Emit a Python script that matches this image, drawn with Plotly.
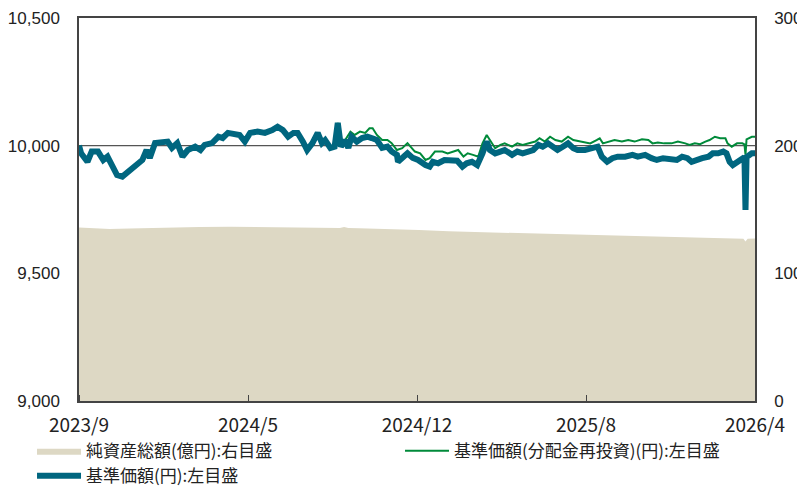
import plotly.graph_objects as go

# ---- data (trading-day index from 2023/9 to 2026/4) ----
tick_days = [0, 160, 320, 480, 640]
tick_labels = ["2023/9", "2024/5", "2024/12", "2025/8", "2026/4"]

nav_days = [0, 2, 8, 12, 18, 23, 27, 31, 36, 41, 46, 53, 60, 64, 67, 72, 79, 84, 88, 93,
            98, 103, 110, 115, 119, 126, 132, 136, 141, 148, 152, 157, 162, 169, 176, 183,
            188, 193, 198, 203, 207, 212, 216, 221, 223, 226, 230, 233, 238, 242, 245, 248,
            252, 255, 258, 263, 268, 273, 277, 282, 287, 292, 296, 301, 302, 307, 311, 316,
            321, 328, 332, 335, 340, 346, 351, 358, 363, 367, 372, 377, 382, 386, 389, 394,
            399, 403, 410, 415, 420, 425, 430, 435, 439, 444, 449, 453, 458, 463, 468, 472,
            479, 486, 491, 495, 500, 505, 510, 517, 524, 529, 536, 542, 547, 553, 560, 566,
            571, 576, 580, 585, 590, 596, 600, 605, 610, 613, 616, 619, 623, 628, 630, 631,
            632, 637, 640]
nav = [10000, 9970, 9937, 9977, 9977, 9944, 9957, 9924, 9885, 9879, 9898, 9924, 9944, 9983,
       9952, 10010, 10016, 10016, 9991, 10010, 9957, 9983, 9996, 9983, 10003, 10010, 10035,
       10030, 10050, 10042, 10042, 10016, 10050, 10055, 10050, 10061, 10074, 10061, 10035,
       10050, 10050, 10016, 9983, 10010, 10030, 10050, 10010, 10022, 9991, 9996, 10089, 9996,
       10022, 9991, 10035, 10016, 10030, 10035, 10030, 10022, 9991, 9996, 9977, 9964, 9937,
       9952, 9970, 9952, 9944, 9924, 9918, 9937, 9931, 9944, 9944, 9941, 9918, 9931, 9937,
       9924, 9970, 10016, 9983, 9970, 9977, 9983, 9964, 9977, 9970, 9977, 9983, 10003, 9996,
       10009, 9996, 9983, 9996, 10009, 9990, 9983, 9983, 9990, 9996, 9957, 9937, 9951, 9957,
       9957, 9964, 9957, 9964, 9951, 9944, 9951, 9944, 9944, 9957, 9951, 9937, 9947, 9951,
       9957, 9970, 9970, 9977, 9970, 9937, 9924, 9937, 9951, 9955, 9748, 9955, 9970, 9970]

reinv_days = [0, 2, 8, 12, 18, 23, 27, 31, 36, 41, 46, 53, 60, 64, 67, 72, 79, 84, 88, 93,
              98, 103, 110, 115, 119, 126, 132, 136, 141, 148, 152, 157, 162, 169, 176, 183,
              188, 193, 198, 203, 207, 212, 216, 221, 223, 226, 230, 233, 238, 242, 245, 248,
              252, 257, 261, 266, 271, 275, 278, 282, 287, 292, 296, 301, 306, 311, 318, 323,
              328, 332, 337, 344, 349, 354, 359, 364, 368, 373, 378, 382, 386, 389, 394, 399,
              403, 410, 415, 420, 425, 432, 436, 441, 446, 451, 457, 463, 468, 474, 484, 490,
              493, 496, 501, 507, 514, 520, 526, 533, 539, 543, 548, 554, 561, 567, 574, 578,
              583, 588, 593, 597, 602, 607, 612, 614, 618, 623, 628, 630, 631, 632, 637, 640]
reinv = [10000, 9970, 9937, 9977, 9977, 9944, 9957, 9924, 9885, 9879, 9898, 9924, 9944, 9983,
         9952, 10010, 10016, 10016, 9991, 10010, 9957, 9983, 9996, 9983, 10003, 10010, 10035,
         10030, 10050, 10042, 10042, 10016, 10050, 10055, 10050, 10061, 10074, 10061, 10035,
         10050, 10050, 10016, 9983, 10010, 10030, 10050, 10010, 10022, 9991, 9996, 10089, 9996,
         10022, 10055, 10042, 10055, 10050, 10068, 10068, 10042, 10022, 10022, 10010, 9983,
         9990, 10010, 9977, 9970, 9944, 9951, 9977, 9977, 9970, 9977, 9983, 9957, 9970, 9964,
         9957, 10009, 10042, 10022, 9990, 10003, 10009, 9996, 10009, 10003, 10009, 10016,
         10029, 10016, 10035, 10022, 10016, 10035, 10022, 10016, 10009, 10022, 10029, 10009,
         10016, 10022, 10016, 10022, 10016, 10025, 10022, 10009, 10012, 10009, 10009, 10016,
         10009, 10003, 10009, 10006, 10016, 10022, 10035, 10029, 10029, 10009, 9996, 10009,
         10009, 10005, 9965, 10025, 10035, 10035]

aum_days = [0, 10, 29, 48, 77, 114, 143, 171, 209, 247, 251, 255, 265, 294, 322, 350, 379,
            407, 436, 464, 492, 521, 549, 578, 606, 629, 631, 633, 640]
aum = [135.9, 135.5, 134.8, 135.2, 135.8, 136.3, 136.5, 136.3, 136.0, 135.6, 136.2, 135.6,
       135.4, 134.8, 134.0, 132.9, 132.3, 132.0, 131.5, 131.0, 130.3, 129.6, 128.9, 128.3,
       127.6, 127.0, 125.0, 127.0, 127.3]

C_AREA = "#DDD8C4"
C_GREEN = "#008A3A"
C_BLUE = "#00667F"
CJK = "Noto Sans CJK JP"

fig = go.Figure()
fig.add_trace(go.Scatter(x=aum_days, y=aum, name="純資産総額(億円):右目盛",
                         mode="lines", fill="tozeroy", fillcolor=C_AREA,
                         line=dict(color=C_AREA, width=0), yaxis="y"))
fig.add_trace(go.Scatter(x=reinv_days, y=reinv, name="基準価額(分配金再投資)(円):左目盛",
                         mode="lines", line=dict(color=C_GREEN, width=2), yaxis="y2"))
fig.add_trace(go.Scatter(x=nav_days, y=nav, name="基準価額(円):左目盛",
                         mode="lines", line=dict(color=C_BLUE, width=6), yaxis="y2"))

fig.add_shape(type="line", xref="paper", x0=0, x1=1, yref="y2", y0=10000, y1=10000,
              line=dict(color="#555555", width=1.2), layer="below")

axis_line = "#444444"
# the page body adds an 8px offset, so the figure is 8px smaller than the window
fig.update_layout(
    width=797, height=478,
    margin=dict(l=71, r=50, t=10, b=85, autoexpand=False),
    paper_bgcolor="white", plot_bgcolor="white",
    showlegend=True,
    legend=dict(orientation="h", x=-0.0695, xanchor="left", y=-0.084, yanchor="top",
                entrywidth=309, entrywidthmode="pixels", itemwidth=44,
                font=dict(family=CJK, size=17, color="#222222"),
                tracegroupgap=0, bgcolor="rgba(0,0,0,0)"),
    xaxis=dict(range=[0, 640], tickmode="array", tickvals=tick_days, ticktext=tick_labels,
               ticks="outside", ticklen=6, tickcolor="rgba(0,0,0,0)", showgrid=False,
               minor=dict(ticks="inside", ticklen=6, tickcolor=axis_line,
                          tickmode="array", tickvals=tick_days, showgrid=False),
               showline=True, linecolor=axis_line, linewidth=1.5, mirror=True,
               zeroline=False, automargin=False,
               tickfont=dict(family=CJK, size=19, color="#222222")),
    yaxis=dict(side="right", range=[0, 300], tickvals=[0, 100, 200, 300],
               showgrid=False, zeroline=False, showline=True, linecolor=axis_line,
               linewidth=1.5, ticks="", ticklabelstandoff=14, automargin=False,
               tickfont=dict(family="Liberation Sans, Arial", size=17, color="#222222")),
    yaxis2=dict(side="left", overlaying="y", range=[9000, 10500],
                tickvals=[9000, 9500, 10000, 10500], tickformat=",d",
                showgrid=False, zeroline=False, showline=True, linecolor=axis_line,
                linewidth=1.5, ticks="", ticklabelstandoff=14, automargin=False,
                tickfont=dict(family="Liberation Sans, Arial", size=17, color="#222222")),
)

fig.write_html("out.html")
